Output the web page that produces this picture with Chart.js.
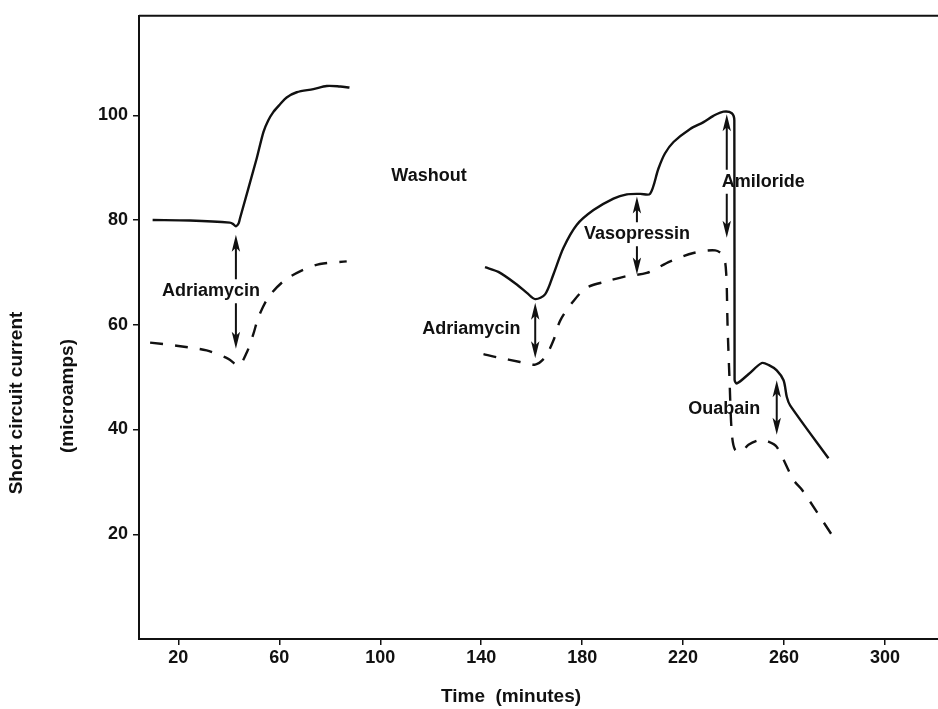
<!DOCTYPE html>
<html>
<head>
<meta charset="utf-8">
<title>Short circuit current</title>
<script src="https://cdn.jsdelivr.net/npm/chart.js@4.4.1/dist/chart.umd.min.js"></script>
<style>
    html, body { margin: 0; padding: 0; background: #fff; }
    #wrap { width: 938px; height: 709px; }
</style>
</head>
<body>
<div id="wrap"><canvas id="chart" width="938" height="709"></canvas></div>
<script>
// axis ticks
const TICK_TIMES = [20, 60, 100, 140, 180, 220, 260, 300];
const TICK_CURRENTS = [20, 40, 60, 80, 100];

// first run, before washout (minutes / microamps)
const PRE_SOLID_TIME = [9.8, 24.6, 40.4, 41.8, 42.8, 43.9, 44.4, 51.0, 53.7, 55.6, 57.6, 60.3, 62.9, 66.9, 73.5, 78.8, 84.1, 87.8];
const PRE_SOLID_CURRENT = [80.0, 79.9, 79.5, 79.2, 78.8, 79.4, 80.3, 91.7, 96.8, 99.0, 100.6, 102.1, 103.4, 104.4, 105.0, 105.6, 105.5, 105.3];
const PRE_DASHED_TIME = [8.8, 19.3, 31.2, 39.8, 43.9, 47.1, 49.7, 51.7, 55.6, 61.6, 68.2, 76.1, 86.7];
const PRE_DASHED_CURRENT = [56.6, 56.0, 55.1, 53.5, 52.2, 54.7, 58.2, 61.4, 65.2, 68.3, 70.2, 71.6, 72.1];

// second run, after washout
const POST_SOLID_TIME = [141.5, 146.8, 154.1, 158.1, 161.4, 165.3, 168.6, 172.6, 177.9, 184.5, 192.4, 197.7, 203.0, 206.9, 210.2, 212.8, 216.2, 222.8, 228.1, 232.0, 236.0, 239.3, 240.3, 240.4, 241.3, 246.0, 251.2, 254.0, 257.1, 259.8, 261.1, 262.4, 277.6];
const POST_SOLID_CURRENT = [71.0, 70.1, 67.7, 66.1, 64.9, 65.8, 69.6, 74.7, 79.1, 81.9, 84.1, 84.9, 85.0, 85.0, 89.8, 92.7, 94.9, 97.4, 98.7, 99.9, 100.7, 100.4, 99.0, 49.5, 48.8, 50.6, 52.7, 52.3, 51.3, 49.4, 46.2, 44.6, 34.5];
const POST_DASHED_TIME = [140.9, 146.2, 155.4, 161.4, 165.3, 168.6, 171.3, 176.5, 181.8, 189.8, 197.7, 205.6, 214.9, 224.1, 232.7, 236.0, 237.1, 237.6, 238.4, 239.3, 240.6, 243.3, 245.9, 250.5, 253.8, 257.1, 263.7, 267.1, 279.6];
const POST_DASHED_CURRENT = [54.4, 53.8, 52.9, 52.4, 53.8, 57.0, 60.8, 64.5, 67.1, 68.3, 69.3, 69.9, 72.1, 73.7, 74.2, 73.1, 69.6, 60.1, 49.4, 39.3, 36.1, 35.8, 37.1, 38.0, 37.7, 36.7, 30.4, 28.5, 19.4];

// text labels (data coordinates)
const LABELS = ['Washout', 'Adriamycin', 'Adriamycin', 'Vasopressin', 'Amiloride', 'Ouabain'];
const LABEL_TIME = [119.3, 32.9, 136.1, 201.7, 251.8, 236.3];
const LABEL_CURRENT = [88.4, 66.4, 59.2, 77.3, 87.3, 44.0];

// drug addition arrows
const ARROW_TIME = [42.8, 161.4, 201.7, 237.3, 257.1];
const ARROW_TOP = [77.2, 64.2, 84.5, 100.2, 49.4];
const ARROW_BOTTOM = [55.4, 53.6, 69.6, 76.6, 39.0];

const INK = '#111';
const FONT = "'Liberation Sans', Arial, sans-serif";

function pts(xs, ys) {
    return xs.map((x, i) => ({ x: x, y: ys[i] }));
}

function trace(xs, ys, dashed) {
    return {
        data: pts(xs, ys),
        borderColor: INK,
        borderWidth: 2.4,
        borderDash: dashed ? [13, 12] : [],
        pointRadius: 0,
        tension: 0.3,
        fill: false
    };
}

function arrowHead(ctx, x, y, dir) {
    ctx.beginPath();
    ctx.moveTo(x, y);
    ctx.lineTo(x - 4.2, y + dir * 17);
    ctx.lineTo(x, y + dir * 13);
    ctx.lineTo(x + 4.2, y + dir * 17);
    ctx.closePath();
    ctx.fill();
}

const annotate = {
    id: 'annotate',
    afterDatasetsDraw(chart) {
        const ctx = chart.ctx;
        const xs = chart.scales.x, ys = chart.scales.y;
        const area = chart.chartArea;
        ctx.save();
        ctx.strokeStyle = INK;
        ctx.fillStyle = INK;

        // top frame line
        ctx.lineWidth = 2;
        ctx.beginPath();
        ctx.moveTo(area.left, area.top);
        ctx.lineTo(area.right, area.top);
        ctx.stroke();

        ctx.font = 'bold 18px ' + FONT;
        ctx.textAlign = 'center';
        ctx.textBaseline = 'middle';
        const boxes = LABELS.map((t, i) => {
            const cx = xs.getPixelForValue(LABEL_TIME[i]);
            const cy = ys.getPixelForValue(LABEL_CURRENT[i]);
            const w = ctx.measureText(t).width;
            return { t, cx, cy, w };
        });

        ARROW_TIME.forEach((t, i) => {
            const x = xs.getPixelForValue(t);
            const yTop = ys.getPixelForValue(ARROW_TOP[i]);
            const yBot = ys.getPixelForValue(ARROW_BOTTOM[i]);
            const hit = boxes.find(b => Math.abs(b.cx - x) < b.w / 2 && b.cy > yTop && b.cy < yBot);
            ctx.lineWidth = 2;
            ctx.beginPath();
            if (hit) {
                ctx.moveTo(x, yTop + 10);
                ctx.lineTo(x, hit.cy - 12);
                ctx.moveTo(x, hit.cy + 12);
                ctx.lineTo(x, yBot - 10);
            } else {
                ctx.moveTo(x, yTop + 10);
                ctx.lineTo(x, yBot - 10);
            }
            ctx.stroke();
            arrowHead(ctx, x, yTop, 1);
            arrowHead(ctx, x, yBot, -1);
        });

        boxes.forEach(b => ctx.fillText(b.t, b.cx, b.cy));

        // axis titles
        ctx.font = 'bold 19px ' + FONT;
        ctx.fillText('Time  (minutes)', area.left + 372, 697);
        ctx.save();
        ctx.translate(area.left - 122, 403);
        ctx.rotate(-Math.PI / 2);
        ctx.fillText('Short circuit current', 0, 0);
        ctx.restore();
        ctx.save();
        ctx.translate(area.left - 71, 396);
        ctx.rotate(-Math.PI / 2);
        ctx.fillText('(microamps)', 0, 0);
        ctx.restore();

        ctx.restore();
    }
};

new Chart(document.getElementById('chart'), {
    type: 'line',
    data: {
        datasets: [
            trace(PRE_SOLID_TIME, PRE_SOLID_CURRENT, false),
            trace(PRE_DASHED_TIME, PRE_DASHED_CURRENT, true),
            trace(POST_SOLID_TIME, POST_SOLID_CURRENT, false),
            trace(POST_DASHED_TIME, POST_DASHED_CURRENT, true)
        ]
    },
    options: {
        responsive: false,
        animation: false,
        layout: { padding: { top: 12, left: 0, right: 0, bottom: 0 } },
        plugins: { legend: { display: false }, tooltip: { enabled: false } },
        scales: {
            x: {
                type: 'linear',
                min: 4.4,
                max: 321,
                afterBuildTicks: s => { s.ticks = TICK_TIMES.map(v => ({ value: v })); },
                afterFit: s => { s.height = 70; },
                grid: { drawOnChartArea: false, drawTicks: true, tickLength: 6, color: INK, lineWidth: 1.5 },
                border: { display: true, color: INK, width: 2 },
                ticks: { color: INK, font: { family: FONT, size: 18, weight: 'bold' }, padding: 2, maxRotation: 0, autoSkip: false }
            },
            y: {
                min: 0,
                max: 119,
                afterBuildTicks: s => { s.ticks = TICK_CURRENTS.map(v => ({ value: v })); },
                afterFit: s => { s.width = 139; },
                grid: { drawOnChartArea: false, drawTicks: true, tickLength: 6, color: INK, lineWidth: 1.5 },
                border: { display: true, color: INK, width: 2 },
                ticks: { color: INK, font: { family: FONT, size: 18, weight: 'bold' }, padding: 5 }
            }
        }
    },
    plugins: [annotate]
});
</script>
</body>
</html>
